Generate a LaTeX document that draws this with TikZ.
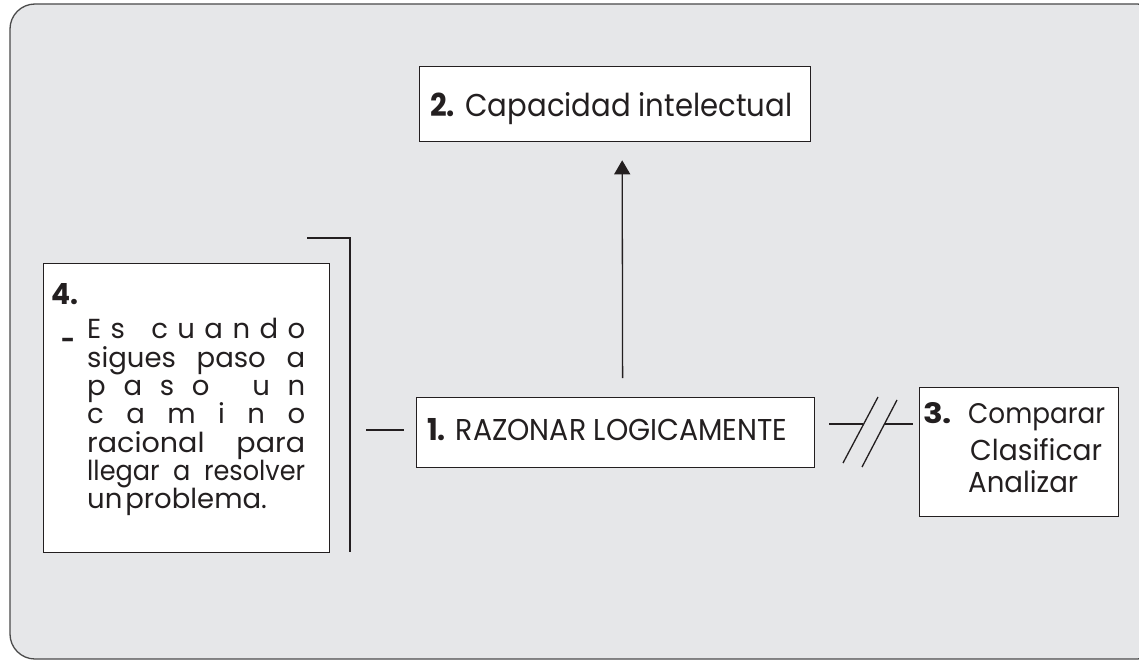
\documentclass[tikz,border=0pt]{standalone}
\usepackage{fontspec}
\setmainfont{Poppins}
\usepackage{graphicx}
\usetikzlibrary{arrows.meta}
\definecolor{bg}{HTML}{E6E7E9}
\definecolor{ink}{HTML}{231F20}
\definecolor{frameline}{HTML}{4A4A4A}
% #1 horizontal scale, #2 = 218pt / #1, #3 content
\newcommand{\quatroline}[3]{\scalebox{#1}[1]{\makebox[#2][s]{#3}}}
\newcommand{\quatrolast}[3]{\scalebox{#1}[1]{\makebox[#2][l]{#3}}}
\begin{document}
\begin{tikzpicture}[x=1pt,y=-1pt,
  boxshape/.style={draw=ink, line width=1.3pt, fill=white, inner sep=0pt, anchor=north west},
  txt/.style={anchor=base west, inner sep=0pt, text=ink},
  conn/.style={draw=ink, line width=1.3pt}]
\useasboundingbox (0,0) rectangle (1139,660);
\clip (0,0) rectangle (1139,660);
\fill[white] (0,0) rectangle (1139,660);
\draw[frameline, line width=1.3pt, fill=bg, rounded corners=25pt] (10,4) rectangle (1162,659);

% boxes
\node[boxshape, minimum width=391pt, minimum height=75pt] (n2) at (419,66) {};
\node[boxshape, minimum width=398pt, minimum height=70pt] (n1) at (416,397) {};
\node[boxshape, minimum width=199pt, minimum height=129pt] (n3) at (919,387) {};
\node[boxshape, minimum width=286pt, minimum height=289pt] (n4) at (43,263) {};

% texts
\node[txt] (t2) at (430,117) {\resizebox{362pt}{24pt}{\textbf{2.} Capacidad intelectual}};
\node[txt] (t1) at (427,440) {\resizebox{360pt}{22pt}{\textbf{1.} RAZONAR LOGICAMENTE}};
\node[txt] (t3n) at (923,423) {\resizebox{29pt}{21pt}{\textbf{3.}}};
\node[txt] (t3a) at (968,423) {\resizebox{137pt}{20pt}{Comparar}};
\node[txt] (t3b) at (970,460) {\resizebox{132pt}{22pt}{Clasificar}};
\node[txt] (t3c) at (968,492) {\resizebox{110pt}{22pt}{Analizar}};
\node[txt] (t4n) at (51,304) {\resizebox{27pt}{21pt}{\textbf{4.}}};
\node[txt] (dash) at (61,348) {\resizebox{14pt}{!}{\bfseries -}};

\begin{scope}[every node/.style={txt, font=\fontsize{27.5}{30}\selectfont}]
\node (l1) at (87,338) {\quatroline{1}{218pt}{E\hfill s\hfill\ \hfill c\hfill u\hfill a\hfill n\hfill d\hfill o}};
\node (l2) at (87,367) {\quatroline{1}{218pt}{sigues paso a}};
\node (l3) at (87,395) {\quatroline{1}{218pt}{p\hfill a\hfill s\hfill o\hfill\ \hfill u\hfill n}};
\node (l4) at (87,423.5) {\quatroline{1}{218pt}{c\hfill a\hfill m\hfill i\hfill n\hfill o}};
\node (l5) at (87,452) {\quatroline{1.04}{209.6pt}{racional para}};
\node (l6) at (87,480) {\quatroline{0.93}{234.4pt}{llegar a resolver}};
\node (l7) at (87,508) {\quatrolast{1}{218pt}{un\hspace{3pt}problema.}};
\end{scope}

% bracket
\coordinate (brtop) at (307,238);
\coordinate (brcorner) at (350,238);
\coordinate (brbot) at (350,552);
\coordinate (brmid) at (350,430);
\draw[conn] (brtop) -- (brcorner) -- (brbot);
\draw[conn, shorten <=16pt, shorten >=12pt] (brmid) -- (brmid -| n1.west);

% arrow
\draw[conn, -{Triangle[length=14pt,width=16pt]}, shorten <=19pt, shorten >=18pt]
  ([xshift=7pt]n1.north) -- ([xshift=7pt]n2.south);

% broken connector to box 3
\coordinate (j1) at (863,424);
\coordinate (j2) at (885,424);
\draw[conn, shorten <=14pt] (n1.east |- j1) -- (j1);
\draw[conn, shorten >=6pt] (j2) -- (j2 -| n3.west);
\coordinate (s1a) at (843,463);
\coordinate (s1b) at (878,397);
\coordinate (s2a) at (862,467);
\coordinate (s2b) at (897,400);
\draw[conn] (s1a) -- (s1b);
\draw[conn] (s2a) -- (s2b);
\end{tikzpicture}
\end{document}
